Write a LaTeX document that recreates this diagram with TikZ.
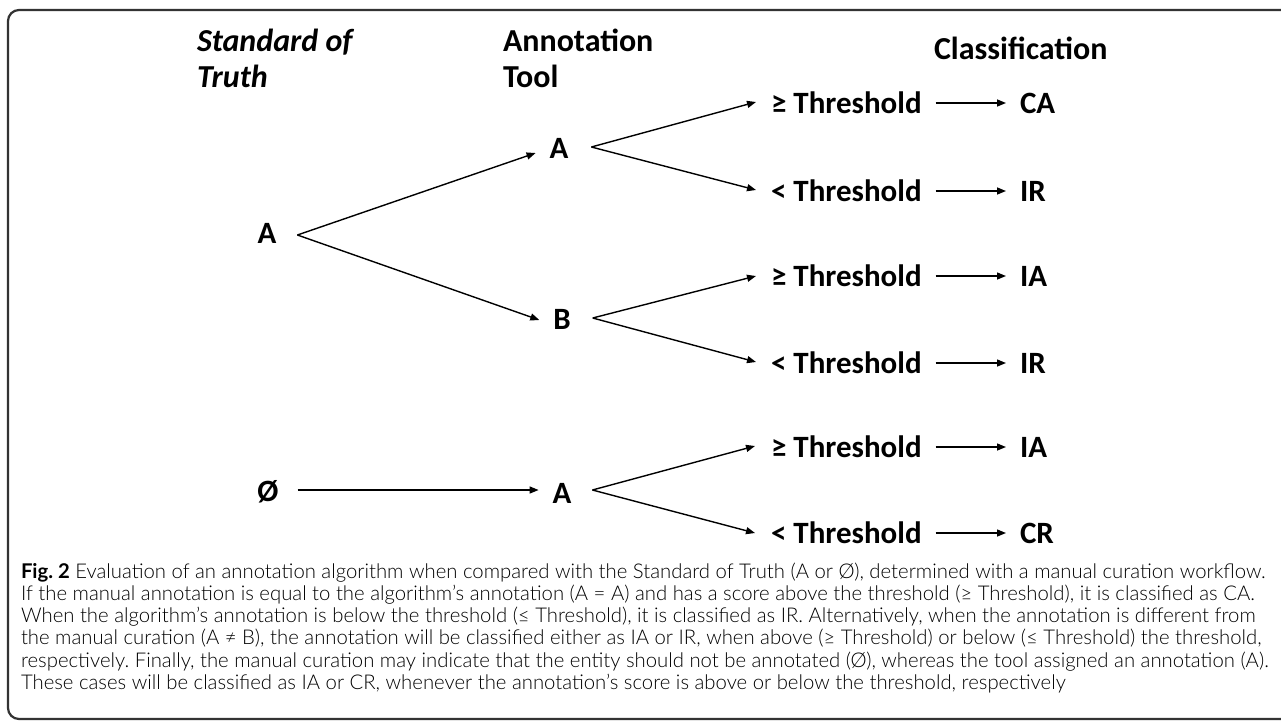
\documentclass[tikz,border=0pt]{standalone}
\usepackage{fontspec}
\setmainfont{Carlito}
\newfontfamily\capfont{Lato}[UprightFont={* Light},BoldFont={* Bold}]
\usetikzlibrary{arrows.meta}
\frenchspacing
\begin{document}
\begin{tikzpicture}[x=1pt,y=-1pt,
 every node/.style={inner sep=0pt, outer sep=0pt},
 hdr/.style={font=\fontsize{32}{36}\selectfont\bfseries, anchor=base west, align=left},
 hdri/.style={font=\fontsize{32}{36}\selectfont\bfseries\itshape, anchor=base west, align=left},
 lbl/.style={font=\fontsize{31}{36}\selectfont\bfseries, anchor=base west, text height=20pt, text depth=0pt},
 ltr/.style={font=\fontsize{31}{36}\selectfont\bfseries, anchor=base, text height=20pt, text depth=0pt},
 arr/.style={draw=black, line width=1.4pt, -{Triangle[length=9pt,width=7pt]}},
 frame/.style={draw=black!80, line width=2.2pt, rounded corners=11pt},
 captxt/.style={font=\capfont\fontsize{20.3}{22.3}\selectfont, anchor=base west, align=left, text=black}
]
\useasboundingbox (0,0) rectangle (1281,720);
\draw[frame] (1300,10) -- (8,10) -- (8,719) -- (1300,719);

% headers
\node[hdri] (sot) at (197,87) {Standard of\\Truth};
\node[hdr] (ann) at (503,87) {Annotation\\Tool};
\node[hdr] (cls) at (934,59) {Classification};

% letters
\node[ltr] (sA) at (267,243) {A};
\node[ltr] (sN) at (268,501) {Ø};
\node[ltr] (mA) at (559,158) {A};
\node[ltr] (mB) at (562,329) {B};
\node[ltr] (lA) at (562,503) {A};

% threshold labels
\node[lbl] (t1) at (771,113) {≥ Threshold};
\node[lbl] (t2) at (771,201) {< Threshold};
\node[lbl] (t3) at (771,286) {≥ Threshold};
\node[lbl] (t4) at (771,373) {< Threshold};
\node[lbl] (t5) at (771,457) {≥ Threshold};
\node[lbl] (t6) at (771,543) {< Threshold};

% classes
\node[lbl] (c1) at (1020,113) {CA};
\node[lbl] (c2) at (1020,201) {IR};
\node[lbl] (c3) at (1020,286) {IA};
\node[lbl] (c4) at (1020,373) {IR};
\node[lbl] (c5) at (1020,457) {IA};
\node[lbl] (c6) at (1020,543) {CR};

% first level
\draw[arr] ([xshift=21pt,yshift=-2pt]sA.east) -- ([xshift=-14pt,yshift=-5pt]mA.west);
\draw[arr] ([xshift=21pt,yshift=-2pt]sA.east) -- ([xshift=-14pt,yshift=-1pt]mB.west);
\draw[arr] ([xshift=19pt,yshift=1pt]sN.east) -- ([xshift=-14pt,yshift=3pt]lA.west);

% second level
\draw[arr] ([xshift=23pt,yshift=1pt]mA.east) -- ([xshift=-15pt,yshift=1pt]t1.west);
\draw[arr] ([xshift=23pt,yshift=1pt]mA.east) -- ([xshift=-15pt,yshift=1pt]t2.west);
\draw[arr] ([xshift=22pt,yshift=1pt]mB.east) -- ([xshift=-15pt]t3.west);
\draw[arr] ([xshift=22pt,yshift=1pt]mB.east) -- ([xshift=-15pt,yshift=1pt]t4.west);
\draw[arr] ([xshift=21pt,yshift=3pt]lA.east) -- ([xshift=-16pt,yshift=1pt]t5.west);
\draw[arr] ([xshift=21pt,yshift=3pt]lA.east) -- ([xshift=-16pt]t6.west);

% third level
\foreach \i in {1,...,6}{
  \draw[arr] ([xshift=14pt]t\i.east) -- ([xshift=-14pt]c\i.west);
}

% caption
\node[captxt] (cap) at (21,689.5) {\textbf{Fig. 2} Evaluation of an annotation algorithm when compared with the Standard of Truth (A or Ø), determined with a manual curation workflow.\\
If the manual annotation is equal to the algorithm’s annotation (A = A) and has a score above the threshold (≥ Threshold), it is classified as CA.\\
When the algorithm’s annotation is below the threshold (≤ Threshold), it is classified as IR. Alternatively, when the annotation is different from\\
the manual curation (A ≠ B), the annotation will be classified either as IA or IR, when above (≥ Threshold) or below (≤ Threshold) the threshold,\\
respectively. Finally, the manual curation may indicate that the entity should not be annotated (Ø), whereas the tool assigned an annotation (A).\\
These cases will be classified as IA or CR, whenever the annotation’s score is above or below the threshold, respectively};
\end{tikzpicture}
\end{document}
